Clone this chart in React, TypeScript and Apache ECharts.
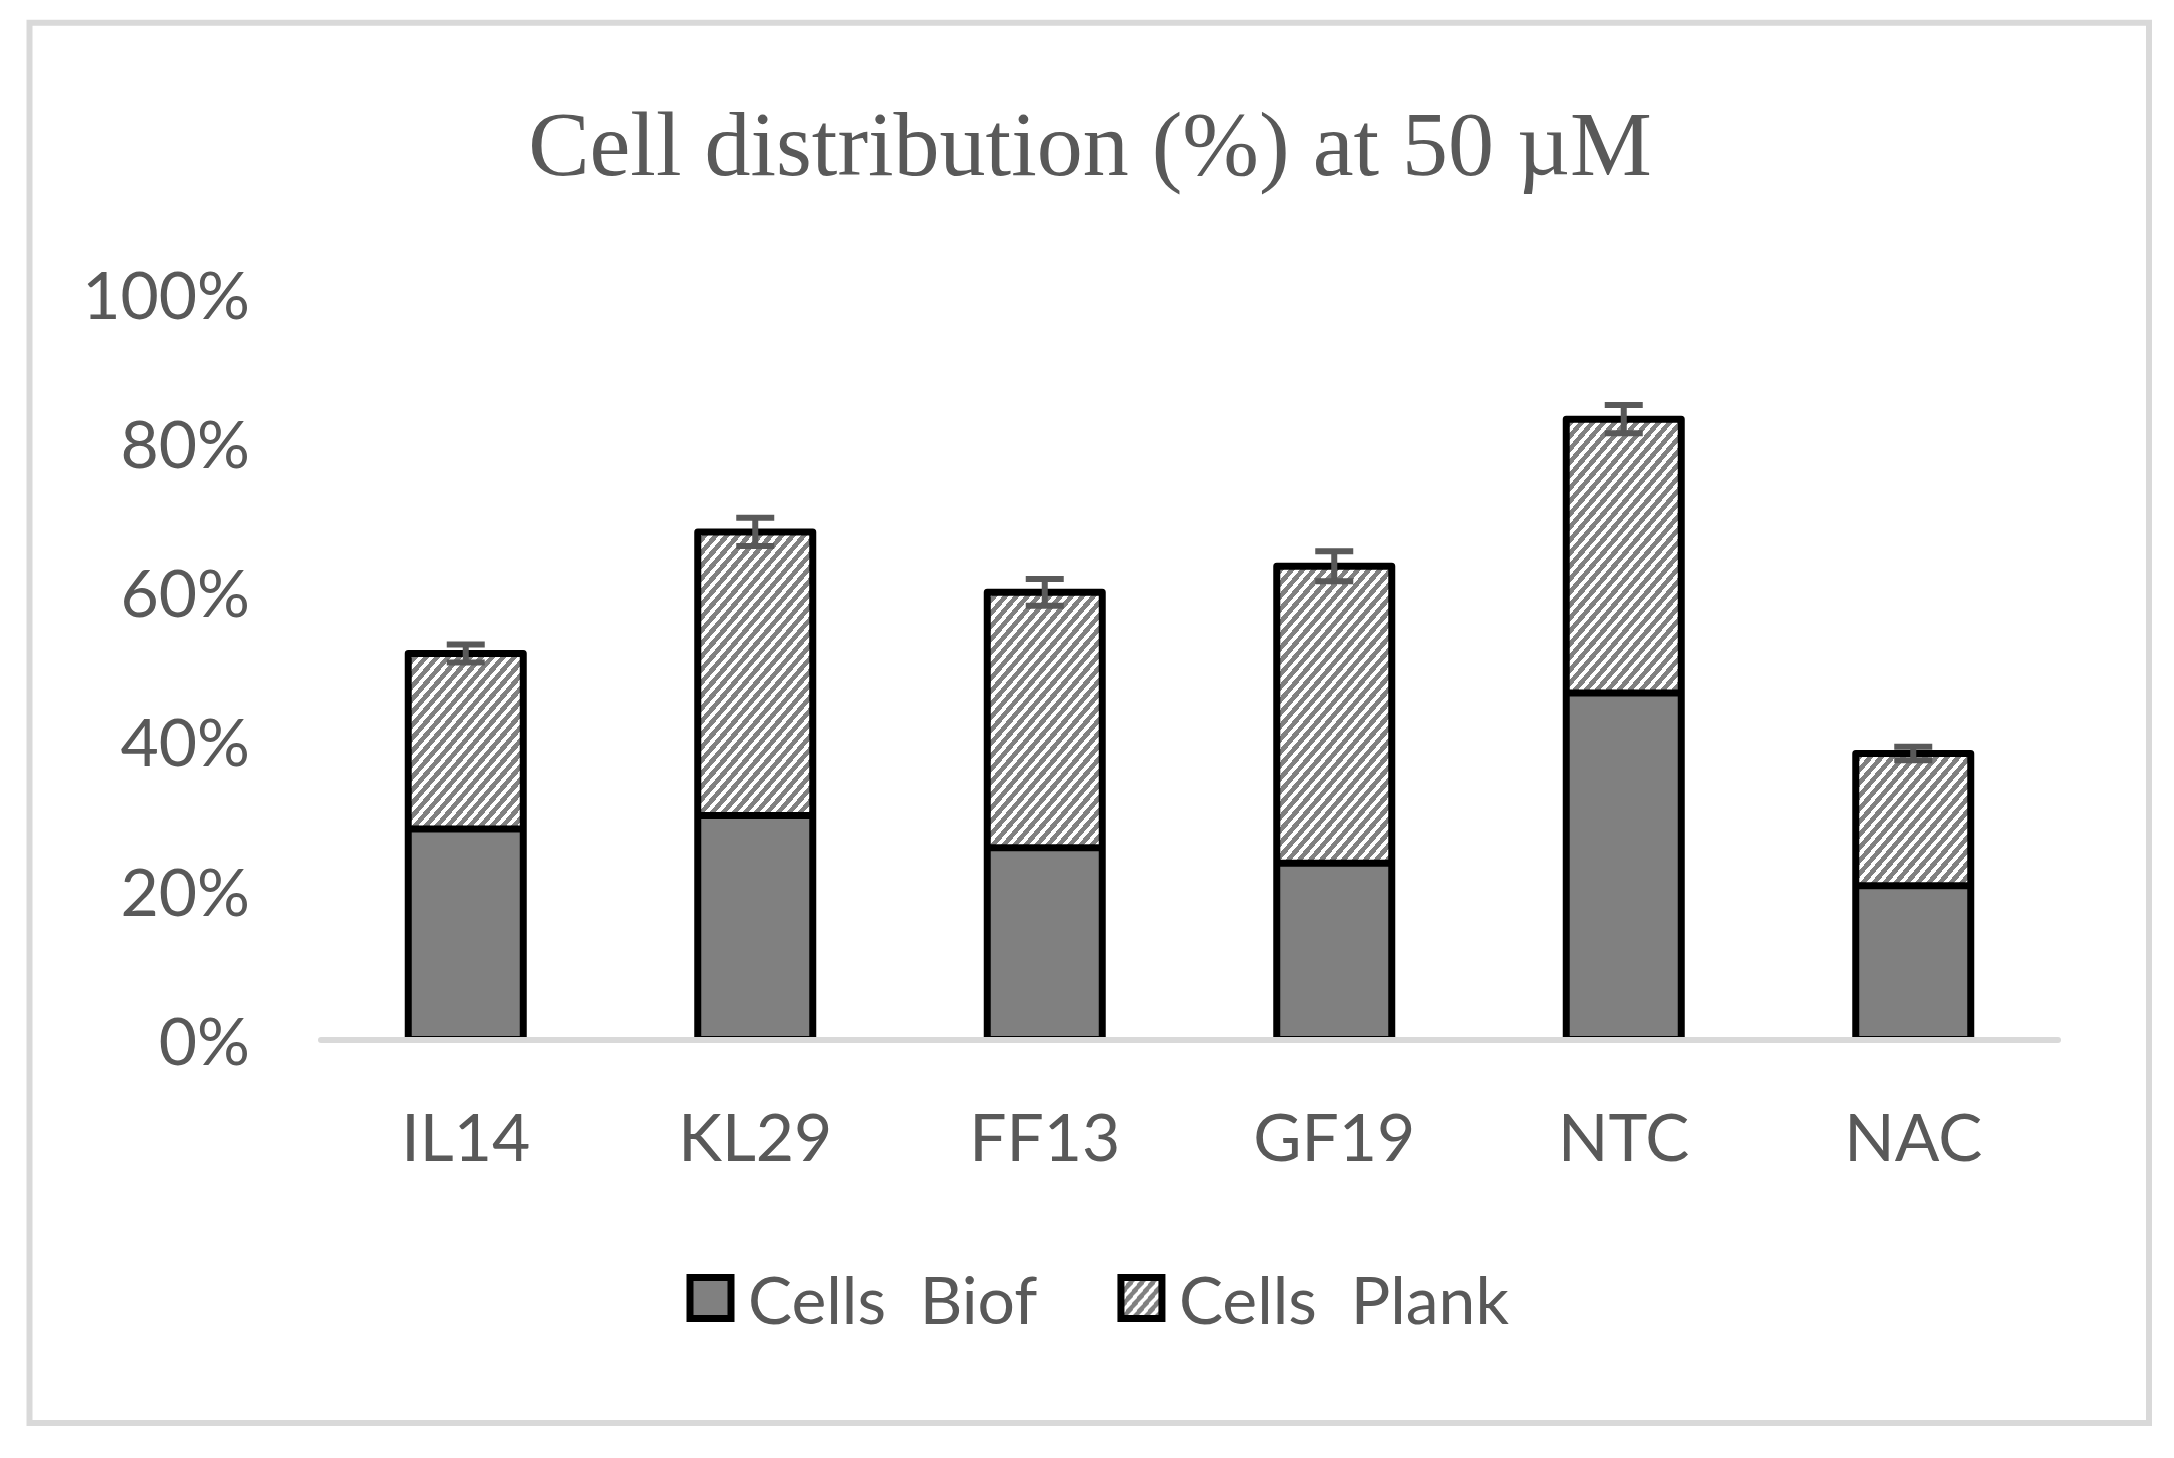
import React, { useEffect, useRef } from "react";
import * as echarts from "echarts";

const titleText = "Cell distribution (%) at 50 µM";
const categories = ["IL14", "KL29", "FF13", "GF19", "NTC", "NAC"];
const seriesNames = ["Cells  Biof", "Cells  Plank"];
const biofValues = [28.2, 30.0, 25.7, 23.6, 46.4, 20.6];
const plankValues = [23.5, 38.0, 34.2, 39.8, 36.7, 17.7];
const plankErrors = [1.2, 1.9, 1.8, 2.0, 1.9, 0.9];
const yMin = 0;
const yMax = 100;
const yStep = 20;

function makeHatch(): HTMLCanvasElement {
  const w = 11;
  const h = 13;
  const c = document.createElement("canvas");
  c.width = w;
  c.height = h;
  const ctx = c.getContext("2d") as CanvasRenderingContext2D;
  ctx.fillStyle = "#ffffff";
  ctx.fillRect(0, 0, w, h);
  ctx.fillStyle = "#808080";
  for (let y = 0; y < h; y++) {
    for (let x = 0; x < w; x++) {
      const t = ((x + 0.5) / w + (y + 0.5) / h) % 1;
      if (t < 0.55) ctx.fillRect(x, y, 1, 1);
    }
  }
  return c;
}

export default function App() {
  const ref = useRef<HTMLDivElement>(null);

  useEffect(() => {
    if (!ref.current) return;
    const chart = echarts.init(ref.current, undefined, { renderer: "svg" });
    const hatch = { image: makeHatch(), repeat: "repeat" as const };
    const labelFont = "Lato";
    const textColor = "#595959";
    const barW = 115;
    const borderW = 7;

    const stackData = categories.map((_, i) => [
      i,
      biofValues[i],
      biofValues[i] + plankValues[i],
    ]);
    const errData = categories.map((_, i) => [
      i,
      biofValues[i] + plankValues[i],
      plankErrors[i],
    ]);

    chart.setOption({
      animation: false,
      backgroundColor: "#ffffff",
      title: {
        text: titleText,
        left: 1085,
        textAlign: "center",
        top: 93,
        textStyle: {
          fontFamily: "Liberation Serif",
          fontSize: 92,
          fontWeight: "normal",
          color: textColor,
        },
      },
      graphic: [
        {
          type: "rect",
          shape: { x: 29.5, y: 22.7, width: 2119.5, height: 1400.3 },
          style: { fill: "none", stroke: "#d9d9d9", lineWidth: 6 },
          silent: true,
          z: -1,
        },
      ],
      legend: {
        data: seriesNames,
        left: 681.5,
        top: 1260,
        itemWidth: 41,
        itemHeight: 41,
        itemGap: 80,
        icon: "rect",
        itemStyle: { borderColor: "#000000", borderWidth: borderW },
        textStyle: {
          fontFamily: labelFont,
          fontSize: 66,
          color: textColor,
          padding: [0, 0, 0, 12],
        },
      },
      grid: { left: 321, right: 116, top: 293, bottom: 418.5 },
      xAxis: {
        type: "category",
        data: categories,
        z: 10,
        axisTick: { show: false },
        axisLine: { lineStyle: { color: "#d9d9d9", width: 6 } },
        axisLabel: {
          margin: 63,
          fontFamily: labelFont,
          fontSize: 66,
          color: textColor,
        },
      },
      yAxis: {
        type: "value",
        min: yMin,
        max: yMax,
        interval: yStep,
        axisLine: { show: false },
        axisTick: { show: false },
        splitLine: { show: false },
        axisLabel: {
          formatter: "{value}%",
          margin: 71,
          fontFamily: labelFont,
          fontSize: 66,
          color: textColor,
        },
      },
      series: [
        {
          name: seriesNames[0],
          type: "bar",
          stack: "cells",
          barWidth: barW,
          data: biofValues,
          itemStyle: { color: "#808080", borderWidth: 0 },
        },
        {
          name: seriesNames[1],
          type: "bar",
          stack: "cells",
          barWidth: barW,
          data: plankValues,
          itemStyle: { color: hatch, borderWidth: 0 },
        },
        {
          name: "outline",
          type: "custom",
          z: 4,
          silent: true,
          data: stackData,
          renderItem: (params: any, api: any) => {
            const idx = api.value(0);
            const mid = api.coord([idx, api.value(1)]);
            const top = api.coord([idx, api.value(2)]);
            const base = api.coord([idx, 0]);
            const x0 = base[0] - barW / 2;
            const style = { fill: "none", stroke: "#000000", lineWidth: borderW, lineJoin: "round" };
            return {
              type: "group",
              children: [
                {
                  type: "rect",
                  shape: { x: x0, y: top[1], width: barW, height: base[1] - top[1] },
                  style,
                },
                {
                  type: "line",
                  shape: { x1: x0, y1: mid[1], x2: x0 + barW, y2: mid[1] },
                  style: { stroke: "#000000", lineWidth: borderW },
                },
              ],
            };
          },
        },
        {
          name: "error",
          type: "custom",
          z: 10,
          silent: true,
          data: errData,
          renderItem: (params: any, api: any) => {
            const idx = api.value(0);
            const top = api.value(1);
            const e = api.value(2);
            const hi = api.coord([idx, top + e]);
            const lo = api.coord([idx, top - e]);
            const half = 19;
            const style = { stroke: "#595959", lineWidth: 6 };
            return {
              type: "group",
              children: [
                { type: "line", shape: { x1: hi[0], y1: hi[1], x2: lo[0], y2: lo[1] }, style },
                { type: "line", shape: { x1: hi[0] - half, y1: hi[1], x2: hi[0] + half, y2: hi[1] }, style },
                { type: "line", shape: { x1: lo[0] - half, y1: lo[1], x2: lo[0] + half, y2: lo[1] }, style },
              ],
            };
          },
        },
      ],
    });

    return () => chart.dispose();
  }, []);

  return (
    <div
      ref={ref}
      style={{ position: "fixed", left: 0, top: 0, width: 2174, height: 1458, background: "#fff" }}
    />
  );
}
